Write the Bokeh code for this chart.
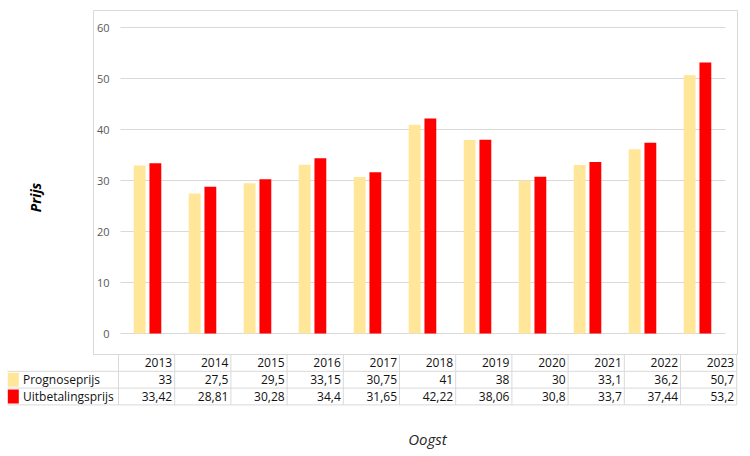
from bokeh.plotting import figure
from bokeh.models import Range1d, FixedTicker, BoxAnnotation
from bokeh.embed import file_html
from bokeh.resources import INLINE
from bokeh.core.properties import value

# ---------------- data ----------------
years = ["2013", "2014", "2015", "2016", "2017", "2018", "2019", "2020", "2021", "2022", "2023"]
prognoseprijs = [33, 27.5, 29.5, 33.15, 30.75, 41, 38, 30, 33.1, 36.2, 50.7]
uitbetalingsprijs = [33.42, 28.81, 30.28, 34.4, 31.65, 42.22, 38.06, 30.8, 33.7, 37.44, 53.2]
series_names = ["Prognoseprijs", "Uitbetalingsprijs"]
y_ticks = [0, 10, 20, 30, 40, 50, 60]
y_title = "Prijs"
x_title = "Oogst"

# ---------------- style / layout constants ----------------
COL_PROG = "#FFE699"
COL_UIT = "#FF0000"
GRID = "#d9d9d9"
TXT = "#111111"
FONT = "Open Sans"
W, H = 745, 454

CAT_LEFT, CAT_W = 119.5, 55.0       # pixel position of first category slot, slot width
ZERO_PX, PX_PER_UNIT = 333.0, 5.092  # pixel row of value 0, pixels per value unit
TBL_LEFT, TBL_COL = 118.0, 56.2      # data-table first value column, column width
TBL_TOP, TBL_ROW = 354.0, 16.8       # data-table top, row height


def ux(px):
    return (px - CAT_LEFT) / CAT_W


def vy(py):
    return (ZERO_PX - py) / PX_PER_UNIT


def fmt(v):
    return f"{v:g}".replace(".", ",")


n = len(years)

p = figure(width=W, height=H,
           x_range=Range1d(ux(0), ux(W)), y_range=Range1d(vy(H), vy(0)),
           x_axis_location=None, output_backend="svg", toolbar_location=None,
           min_border_left=0, min_border_right=0, min_border_top=0, min_border_bottom=0)
p.outline_line_color = None
p.background_fill_color = "white"
p.border_fill_color = "white"

p.extra_x_ranges = {"tbl": Range1d(-TBL_LEFT / TBL_COL, (W - TBL_LEFT) / TBL_COL)}
p.extra_y_ranges = {"tbl": Range1d((H - TBL_TOP) / TBL_ROW, -TBL_TOP / TBL_ROW)}

# ---------------- chart box ----------------
p.add_layout(BoxAnnotation(left=ux(93), right=ux(737), top=vy(10), bottom=vy(TBL_TOP),
                           fill_alpha=0, line_color=GRID, line_width=1, line_alpha=1,
                           level="underlay"))

# ---------------- grid ----------------
p.xgrid.visible = False
yg = p.ygrid[0]
yg.ticker = FixedTicker(ticks=y_ticks)
yg.grid_line_color = GRID
try:
    yg.cross_bounds = (0, n)
except AttributeError:
    yg.visible = False
    p.segment(x0=[0] * len(y_ticks), x1=[n] * len(y_ticks), y0=y_ticks, y1=y_ticks,
              line_color=GRID, line_width=1, level="underlay")

# ---------------- bars ----------------
xc = [i + 0.5 for i in range(n)]
p.vbar(x=[x - 0.143 for x in xc], top=prognoseprijs, width=0.215,
       fill_color=COL_PROG, line_color=None)
p.vbar(x=[x + 0.143 for x in xc], top=uitbetalingsprijs, width=0.215,
       fill_color=COL_UIT, line_color=None)

# ---------------- y axis ----------------
ya = p.yaxis[0]
ya.ticker = FixedTicker(ticks=y_ticks)
ya.axis_line_color = None
ya.major_tick_line_color = None
ya.minor_tick_line_color = None
ya.major_tick_out = 0
ya.major_tick_in = 0
ya.major_label_standoff = -109
ya.major_label_text_color = "#595959"
ya.major_label_text_font = FONT
ya.major_label_text_font_size = "11px"

p.text(x=[ux(35)], y=[vy(197)], text=[y_title], angle=1.5708,
       text_align="center", text_baseline="middle",
       text_font=value(FONT), text_font_style="bold italic", text_font_size="14px",
       text_color="#000000")

# ---------------- data table ----------------
tb = dict(x_range_name="tbl", y_range_name="tbl")
lab_left = (7 - TBL_LEFT) / TBL_COL
rows_y = [1, 2, 3]
p.segment(x0=[lab_left] * 3, x1=[n] * 3, y0=rows_y, y1=rows_y,
          line_color=GRID, line_width=1, **tb)
cols_x = list(range(n + 1))
p.segment(x0=cols_x, x1=cols_x, y0=[0] * (n + 1), y1=[3] * (n + 1),
          line_color=GRID, line_width=1, **tb)

colx = [i + 1 for i in range(n)]
common = dict(x_offset=-2.5, text_align="right", text_baseline="middle",
              text_font=value(FONT), text_font_size="12px", text_color=TXT, **tb)
p.text(x=colx, y=[0.5] * n, text=years, **common)
p.text(x=colx, y=[1.5] * n, text=[fmt(v) for v in prognoseprijs], **common)
p.text(x=colx, y=[2.5] * n, text=[fmt(v) for v in uitbetalingsprijs], **common)

# legend keys in the table
p.rect(x=[(12.8 - TBL_LEFT) / TBL_COL] * 2, y=[1.5, 2.5], width=11, height=14,
       width_units="screen", height_units="screen",
       fill_color=[COL_PROG, COL_UIT], line_color=None, **tb)
p.text(x=[(22.5 - TBL_LEFT) / TBL_COL] * 2, y=[1.5, 2.5], text=series_names,
       text_align="left", text_baseline="middle",
       text_font=value(FONT), text_font_size="12px", text_color=TXT, **tb)

# ---------------- x title ----------------
p.text(x=[ux(427)], y=[vy(438)], text=[x_title], text_align="center", text_baseline="middle",
       text_font=value(FONT), text_font_style="italic", text_font_size="15px",
       text_color="#262626")

open("out.html", "w").write(file_html(p, INLINE))
